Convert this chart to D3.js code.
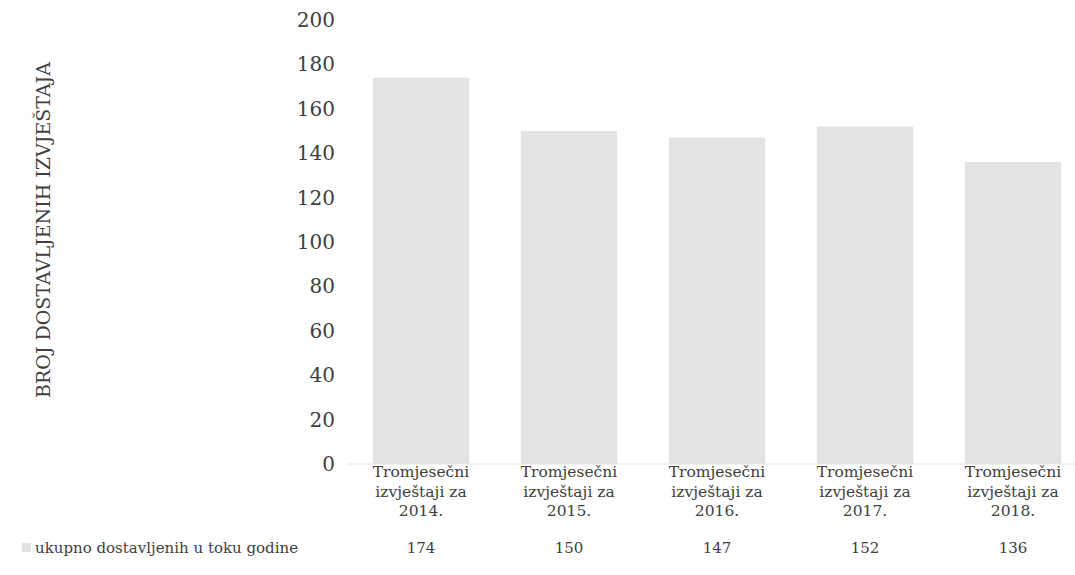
<!DOCTYPE html>
<html>
<head>
<meta charset="utf-8">
<script src="https://cdn.jsdelivr.net/npm/d3@7"></script>
<style>
  body { margin: 0; background: #fff; }
  svg text { font-family: "DejaVu Serif", "Liberation Serif", serif; fill: #404040; }
</style>
</head>
<body>
<svg id="chart" width="1075" height="575"></svg>
<script>
// data
const categories = ['2014.', '2015.', '2016.', '2017.', '2018.'];
const values = [174, 150, 147, 152, 136];
const yTicks = [0, 20, 40, 60, 80, 100, 120, 140, 160, 180, 200];
const seriesName = 'ukupno dostavljenih u toku godine';
const yTitle = 'BROJ DOSTAVLJENIH IZVJEŠTAJA';

const svg = d3.select('#chart');

const x = d3.scaleBand()
  .domain(categories)
  .range([347, 1087])
  .paddingInner(0.35)
  .paddingOuter(0.175);

const y = d3.scaleLinear()
  .domain([0, 200])
  .range([464, 20]);

// bars
svg.selectAll('.bar')
  .data(values)
  .enter()
  .append('rect')
  .attr('class', 'bar')
  .attr('x', (d, i) => x(categories[i]))
  .attr('width', x.bandwidth())
  .attr('y', d => y(d))
  .attr('height', d => y(0) - y(d))
  .attr('fill', '#e3e3e3');

// baseline
svg.append('line')
  .attr('x1', 347).attr('x2', 1075)
  .attr('y1', y(0)).attr('y2', y(0))
  .attr('stroke', '#e6e6e6')
  .attr('stroke-width', 1);

// y axis labels
const yAxis = svg.append('g')
  .attr('transform', 'translate(335,0)')
  .call(d3.axisLeft(y).tickValues(yTicks).tickSize(0).tickPadding(0));
yAxis.select('.domain').remove();
yAxis.selectAll('text')
  .attr('font-size', 20)
  .attr('font-family', '"DejaVu Serif", serif')
  .attr('fill', '#404040');

// y title
svg.append('text')
  .attr('transform', 'translate(50,230) rotate(-90)')
  .attr('text-anchor', 'middle')
  .attr('font-size', 19)
  .text(yTitle);

// category labels
const catLines = categories.map(c => ['Tromjesečni', 'izvještaji za', c]);
categories.forEach((c, i) => {
  const cx = x(c) + x.bandwidth() / 2;
  const t = svg.append('text')
    .attr('text-anchor', 'middle')
    .attr('font-size', 15.5);
  catLines[i].forEach((line, k) => {
    t.append('tspan')
      .attr('x', cx)
      .attr('y', 477 + k * 19.5)
      .text(line);
  });
});

// data table row
svg.append('rect')
  .attr('x', 22).attr('y', 543)
  .attr('width', 9).attr('height', 9)
  .attr('fill', '#e3e3e3');

svg.append('text')
  .attr('x', 35).attr('y', 553)
  .attr('font-size', 15)
  .text(seriesName);

svg.selectAll('.val')
  .data(values)
  .enter()
  .append('text')
  .attr('class', 'val')
  .attr('x', (d, i) => x(categories[i]) + x.bandwidth() / 2)
  .attr('y', 553)
  .attr('text-anchor', 'middle')
  .attr('font-size', 15)
  .text(d => d);
</script>
</body>
</html>
